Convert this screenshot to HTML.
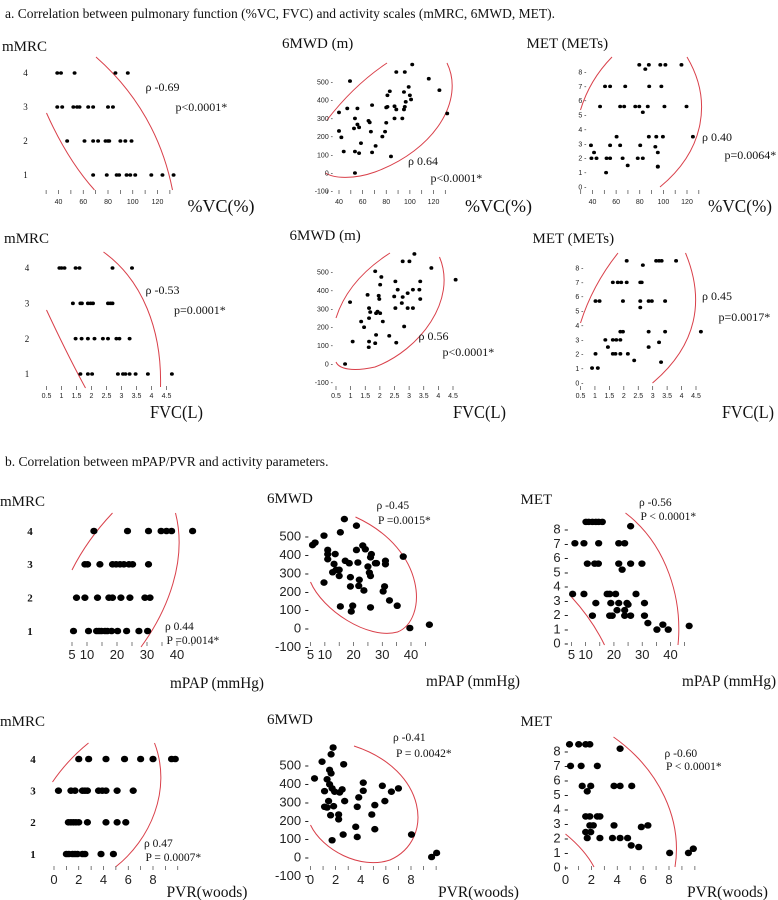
<!DOCTYPE html>
<html><head><meta charset="utf-8">
<style>
html,body{margin:0;padding:0;background:#fff;}
svg{display:block;}
.t{font-family:"Liberation Serif",serif;fill:#111;}
.s{font-family:"Liberation Sans",sans-serif;fill:#222;}
</style></head>
<body>
<svg id="fig" width="778" height="900" viewBox="0 0 778 900" xmlns="http://www.w3.org/2000/svg">
<text class="t" x="5" y="18" font-size="13.5">a. Correlation between pulmonary function (%VC, FVC) and activity scales (mMRC, 6MWD, MET).</text>
<text class="t" x="5" y="466" font-size="13.5">b. Correlation between mPAP/PVR and activity parameters.</text>
<g id="curves" transform="scale(1.5,1)" fill="none" stroke="#d9404a" stroke-width="1">
<path vector-effect="non-scaling-stroke" d="M31,113 Q45,160 63,190"/><path vector-effect="non-scaling-stroke" d="M64,57 Q104.5,110.5 115,190"/>
<path vector-effect="non-scaling-stroke" d="M258,63 Q236,85 218,120"/><path vector-effect="non-scaling-stroke" d="M298,63 C310,100 290,150 250,172 C235,180 222,178 217,173"/>
<path vector-effect="non-scaling-stroke" d="M408,57 Q393,80 387,110"/><path vector-effect="non-scaling-stroke" d="M458,57 C475,100 470,150 440,187"/>
<path vector-effect="non-scaling-stroke" d="M31,310 Q45,355 57,388"/><path vector-effect="non-scaling-stroke" d="M69,252 C95,280 108,330 107,387"/>
<path vector-effect="non-scaling-stroke" d="M260,253 Q232,280 224,318"/><path vector-effect="non-scaling-stroke" d="M293,257 C305,300 280,350 250,367 C235,372 226,369 224,362"/>
<path vector-effect="non-scaling-stroke" d="M412,253 Q395,285 387,323"/><path vector-effect="non-scaling-stroke" d="M457,253 C470,300 465,345 435,383"/>
<path vector-effect="non-scaling-stroke" d="M75,513 Q58,540 48,570"/><path vector-effect="non-scaling-stroke" d="M117,513 C125,560 112,610 94,647"/>
<path vector-effect="non-scaling-stroke" d="M237,517 C285,550 285,620 265,632 C245,640 215,610 207,582"/>
<path vector-effect="non-scaling-stroke" d="M381,597 Q395,620 403,645"/><path vector-effect="non-scaling-stroke" d="M417,513 C445,545 455,600 452,645"/>
<path vector-effect="non-scaling-stroke" d="M59,743 Q45,760 35,782"/><path vector-effect="non-scaling-stroke" d="M103,743 C115,790 100,840 77,867"/>
<path vector-effect="non-scaling-stroke" d="M236,746 C285,770 290,840 260,860 C240,870 215,850 207,825"/>
<path vector-effect="non-scaling-stroke" d="M377,834 Q390,850 396,867"/><path vector-effect="non-scaling-stroke" d="M409,737 C440,770 455,820 450,867"/>
</g>
</svg>
<script>
// ---- data ----
const a1_x=[39,42,53,86,96, 39,43,52,55,57,64,68,80,84, 47,61,68,72,78,80,81,90,94,99, 68,79,87,89,95,98,102,115,124,133];
const a1_y=[4,4,4,4,4, 3,3,3,3,3,3,3,3,3, 2,2,2,2,2,2,2,2,2,2, 1,1,1,1,1,1,1,1,1,1];
const a2_x=[102,88.5,95.7,49.3,116,125,99,83,95,81,55.6,68,47,100,101,40,80,96.5,95.7,87,95,81,88.5,131.6,53.5,65,66,55.6,87,80,93.6,40,42,57,52.7,67,79,76.7,58.6,71,44,53.5,57,68,84,53.5];
const a2_y=[596,555,555,505,518,455,473,449,445,427,355,373,355,427,404,333,360,391,364,367,349,364,349,327,300,287,278,267,300,276,300,231,196,251,245,227,227,200,164,149,118,118,109,113,91,0];
const a3_x=[79.6,87.7,97.4,101.7,115.3,84.7,50.6,54.9,67.7,88,98.3,46.4,63.4,66.8,76.2,79.6,86.8,100.9,119.6,82.6,60.4,87.7,94,99.6,125,38.7,54.9,63.4,80.4,93.2,41.3,39.1,43.4,51.9,54.9,65.5,78.3,82.6,95.3,69.8,95.3,95.3,51.5];
const a3_y=[8.5,8.5,8.5,8.5,8.5,8.2,7,7,7,7,7,5.6,5.6,5.6,5.6,5.6,5.6,5.6,5.6,5.2,3.5,3.5,3.5,3.5,3.5,2.9,2.9,2.9,2.9,2.8,2.4,2,2,2,2,2,2,2,2.4,1.5,1.43,1.4,1.0];
const b1_x=[0.93,1.0,1.1,1.47,1.6,2.7,3.35, 1.38,1.63,1.68,1.88,1.97,2.05,2.55,2.63,2.7, 1.47,1.67,1.88,2.1,2.38,2.55,2.83,2.93,3.27, 1.63,1.88,2.02,2.88,3.05,3.13,3.27,3.47,3.88,4.68];
const b1_y=[4,4,4,4,4,4,4, 3,3,3,3,3,3,3,3,3, 2,2,2,2,2,2,2,2,2, 1,1,1,1,1,1,1,1,1,1];
const b2_x=[3.18,2.78,3.01,3.76,1.84,4.59,2.05,2.53,2.01,3.38,2.61,3.13,2.95,3.35,0.98,2.49,1.96,3.38,1.58,1.98,2.78,2.75,1.63,2.53,2.01,1.67,1.87,1.92,2.95,3.13,1.63,1.36,2.1,1.46,2.83,1.07,1.87,1.63,2.32,1.84,2.56,1.62,0.81];
const b2_y=[598,558,558,522,504,458,473,449,431,449,404,404,385,404,336,367,371,353,376,353,364,331,304,304,276,282,276,285,304,304,249,231,231,200,204,122,158,122,153,113,116,91,0];
const b3_x=[2.1,2.66,3.12,3.22,3.31,3.81,1.62,1.79,1.91,2.1,2.57,2.62,1.02,1.16,1.97,2.57,2.86,2.97,3.43,2.57,1.88,1.97,2.86,3.43,4.67,1.36,1.62,1.74,1.88,1.45,2.86,3.22,1.62,1.71,1.88,2.14,1.02,2.36,3.29,0.9,1.1];
const b3_y=[8.5,8.2,8.5,8.5,8.5,8.5,7,7,7,7,7,7,5.7,5.7,5.7,5.7,5.7,5.7,5.7,5.25,3.57,3.57,3.57,3.57,3.57,3,3,3,3,2.5,2.5,2.83,2.03,2.03,2.03,2.03,2.03,1.57,1.45,1.04,1.04];
const c1_x=[12.3,23.5,30.5,34.7,36.5,38.2,45.2, 9.3,10.2,14.3,18.5,19.7,21,22.3,24,25.2,30.5, 6.5,9.3,13.5,17.3,18.5,21.3,24.3,29.3,31, 5.5,10.5,13.2,14,14.8,16,16.8,18.2,20.2,23.2,27.3,30.2];
const c1_y=[4,4,4,4,4,4,4, 3,3,3,3,3,3,3,3,3,3, 2,2,2,2,2,2,2,2,2, 1,1,1,1,1,1,1,1,1,1,1,1];
const c2_x=[16.8,15.4,21,5.7,6.6,9.7,11,11,11,13.6,13.2,13.9,12.7,15,15,9.7,21,23.2,18.5,17.1,18.9,21.5,22,18.9,21.8,23.6,25,25.5,25.9,27.6,26.2,31.1,31.1,30.3,30.8,32.5,35.2,25.9,24.1,37.3,39.6,46.4,15.4,19.7,19.2,25.9,28];
const c2_y=[592,520,556,451,464,502,424,401,374,402,348,316,303,283,316,247,424,448,352,365,276,356,262,226,229,204,334,301,283,352,401,365,347,199,226,150,121,384,428,388,0,18,117,121,90,112,352];
const c3_x=[10.1,11.1,12.4,13.6,14.6,15.9,25.9,6.2,9.4,14.6,21.7,23.8,10.6,13.2,14.5,21.7,25.9,29.9,22.9,5.4,9.4,17.6,18.5,20.6,27.8,13.6,18.9,21.7,24.6,25,30.8,21.1,23.8,12.4,18.5,19.4,23.8,25.9,30.8,32,35.2,37.3,39.2,46.6];
const c3_y=[8.5,8.5,8.5,8.5,8.5,8.5,8.2,7,7,7,7,7,5.57,5.57,5.57,5.57,5.57,5.57,5.15,3.44,3.44,3.44,3.44,3.44,3.44,2.8,2.8,2.8,2.8,2.7,2.8,2.3,2.3,1.92,1.92,1.92,1.92,1.92,1.92,1.4,0.94,1.29,0.94,1.2];
const d1_x=[2.0,2.8,4.2,5.7,7.0,8.0,9.5,9.8, 0.36,1.37,1.7,2.3,2.5,2.7,3.6,3.9,4.2,5.1,6.4, 1.16,1.37,1.57,1.77,2.0,2.7,4.2,5.1,5.8, 1.0,1.2,1.5,1.7,1.9,2.3,2.5,3.8,4.8];
const d1_y=[4,4,4,4,4,4,4,4, 3,3,3,3,3,3,3,3,3,3,3, 2,2,2,2,2,2,2,2,2, 1,1,1,1,1,1,1,1,1];
const d2_x=[1.8,1.64,0.92,1.52,2.64,0.32,1.64,1.32,1.52,1.72,2.52,2.32,1.92,4.2,4.2,2.72,3.84,3.72,1.44,1.12,1.84,2.24,1.6,2.24,1.32,5.72,7,5.92,6.44,3.6,3.72,2.6,1.72,4.88,5.12,8.04,9.64,10.04,5.12,1.12];
const d2_y=[595,558,518,473,504,427,455,422,395,373,367,351,355,404,360,304,324,273,304,273,276,231,227,205,269,387,373,304,355,164,109,122,91,231,151,122,0,22,282,358];
const d3_x=[0.31,1.02,1.56,1.88,4.22,0.39,1.21,2.46,1.29,1.95,1.68,3.75,4.22,5.12,1.56,1.88,2.46,2.66,2.15,1.88,3.75,5.86,6.37,1.56,1.95,1.68,2.66,3.63,4.22,4.8,5.08,5.66,8.05,9.5,9.88];
const d3_y=[8.46,8.46,8.46,8.46,8.16,6.97,6.97,6.97,5.59,5.59,5.22,5.59,5.59,5.59,3.49,3.49,3.49,3.49,2.87,2.87,2.87,2.76,2.87,2.41,2.41,2.0,2.0,2.0,2.0,2.0,1.49,1.38,0.97,0.97,1.26];
const vcTicks=[40,60,80,100,120];
const fvcTicks=[0.5,1,1.5,2,2.5,3,3.5,4,4.5];
const mpapTicks=[5,10,20,30,40];
const pvrTicks=[0,2,4,6,8];
const mmrcTicks=[1,2,3,4];
const mwdTicks=[-100,0,100,200,300,400,500];
const metTicks=[0,1,2,3,4,5,6,7,8];

const SX=1.5;
const NS='http://www.w3.org/2000/svg';
const svg=document.getElementById('fig');
function mk(tag,attrs,parent,txt){const e=document.createElementNS(NS,tag);for(const k in attrs)e.setAttribute(k,attrs[k]);if(txt!==undefined)e.textContent=txt;(parent||svg).appendChild(e);return e;}
function lin(a){return v=>a[1]+(v-a[0])*(a[3]-a[1])/(a[2]-a[0]);}

function panel(p){
  const g=mk('g',{});
  
  
  const X=lin([p.xa[0],p.xa[1]*SX,p.xa[2],p.xa[3]*SX]),Y=lin(p.ya);
  p.minor.forEach(v=>{const l=mk('line',{x1:X(v),x2:X(v),y1:p.tickY,y2:p.tickY+4,stroke:'#444','stroke-width':0.7},g);
    
    });
  p.xticks.forEach(v=>{const t=mk('text',{x:X(v),y:p.labY,'text-anchor':'middle','font-size':p.xfs,class:'s'},g,String(v));
    
    });
  p.yticks.forEach(v=>{const t=mk('text',{x:p.ylx*SX,y:Y(v)+p.yfs*0.35,'text-anchor':p.yanchor,'font-size':p.yfs,class:p.ycls,'font-weight':p.ybold?'bold':'normal'},g,String(v)+(p.dash?' -':''));
    
    });
  p.xs.forEach((v,i)=>{const c=mk('ellipse',{cx:X(v),cy:Y(p.ys[i]),rx:p.r*1.1,ry:p.r,fill:'#000'},g);
    
    });
  const yl=mk('text',{x:p.yt[0]*SX,y:p.yt[1],'font-size':p.ytfs,class:'t'},g,p.yt[2]);
  
  
  const xa={x:p.xt[0]*SX,y:p.xt[1],'font-size':p.xtfs,class:'t'};
  if(p.xtw){xa.textLength=p.xtw;xa.lengthAdjust='spacingAndGlyphs';}
  const xl=mk('text',xa,g,p.xt[2]);
  
  
  p.stats.forEach(s=>{const t=mk('text',{x:s[0]*SX,y:s[1],'font-size':p.sfs,class:'t'},g,s[2]);
    
    });
}
const r5=(a,b,s)=>{const o=[];for(let v=a;v<=b+1e-9;v+=s)o.push(+v.toFixed(2));return o;};
const topS={r:1.8,xfs:7,yfs:7,ytfs:15,xtfs:18,sfs:12,ycls:'s'};
const botS={r:3.3,xfs:13,yfs:13,ytfs:15,xtfs:15.5,sfs:11.5,ycls:'s'};
// Row 1
panel(Object.assign({},topS,{name:'panel-mmrc-vc',xa:[40,39,120,105],ya:[1,175,4,73],xs:a1_x,ys:a1_y,minor:r5(30,130,10),xticks:vcTicks,tickY:190,labY:204,yticks:mmrcTicks,ylx:17,yanchor:'middle',yfs:9,ycls:'t',dash:false,yt:[1.3,51,'mMRC'],xt:[125,212,'%VC(%)'],stats:[[97,91,'ρ -0.69'],[117,111,'p<0.0001*']]}));
panel(Object.assign({},topS,{name:'panel-6mwd-vc',xa:[40,226,120,289],ya:[0,173,500,82],xs:a2_x,ys:a2_y,minor:r5(30,130,10),xticks:vcTicks,tickY:190,labY:204,yticks:mwdTicks,ylx:222,yanchor:'end',dash:true,yt:[188,48,'6MWD (m)'],xt:[310,212,'%VC(%)'],stats:[[272,165,'ρ 0.64'],[287,182,'p<0.0001*']]}));
panel(Object.assign({},topS,{name:'panel-met-vc',xa:[40,395,120,458],ya:[0,187,8,72],xs:a3_x,ys:a3_y,minor:r5(30,130,10),xticks:vcTicks,tickY:190,labY:204,yticks:metTicks,ylx:391,yanchor:'end',dash:true,yt:[351,48,'MET (METs)'],xt:[472,212,'%VC(%)'],xtw:64,stats:[[468,141,'ρ 0.40'],[483,159,'p=0.0064*']]}));
// Row 2
panel(Object.assign({},topS,{name:'panel-mmrc-fvc',xa:[0.5,31,4.5,111],ya:[1,374,4,268],xs:b1_x,ys:b1_y,minor:fvcTicks,xticks:fvcTicks,tickY:386,labY:398,yticks:mmrcTicks,ylx:18,yanchor:'middle',yfs:9,ycls:'t',dash:false,yt:[2.7,243,'mMRC'],xt:[100,418,'FVC(L)'],xtw:53,stats:[[97,294,'ρ -0.53'],[116,314,'p=0.0001*']]}));
panel(Object.assign({},topS,{name:'panel-6mwd-fvc',xa:[0.5,224,4.5,302],ya:[0,364,500,272],xs:b2_x,ys:b2_y,minor:fvcTicks,xticks:fvcTicks,tickY:386,labY:398,yticks:mwdTicks,ylx:222,yanchor:'end',dash:true,yt:[193,240,'6MWD (m)'],xt:[302,418,'FVC(L)'],xtw:53,stats:[[279,340,'ρ 0.56'],[295,356,'p<0.0001*']]}));
panel(Object.assign({},topS,{name:'panel-met-fvc',xa:[0.5,387,4.5,464],ya:[0,383,8,268],xs:b3_x,ys:b3_y,minor:fvcTicks,xticks:fvcTicks,tickY:386,labY:398,yticks:metTicks,ylx:389,yanchor:'end',dash:true,yt:[355,243,'MET (METs)'],xt:[481.3,418,'FVC(L)'],xtw:52,stats:[[468,300,'ρ 0.45'],[479,321,'p=0.0017*']]}));
// Row 3
panel(Object.assign({},botS,{name:'panel-mmrc-mpap',xa:[5,48,40,118],ya:[1,631,4,531],xs:c1_x,ys:c1_y,minor:r5(5,45,5),xticks:mpapTicks,tickY:642,labY:659,yticks:mmrcTicks,ylx:20,yanchor:'middle',yfs:11,ycls:'t',ybold:true,dash:false,yt:[0,506,'mMRC'],xt:[113.3,688,'mPAP (mmHg)'],xtw:94,stats:[[110,630,'ρ 0.44'],[111,644,'P =0.0014*']]}));
panel(Object.assign({},botS,{name:'panel-6mwd-mpap',xa:[5,207,40,274],ya:[0,628,500,536],xs:c2_x,ys:c2_y,minor:r5(5,45,5),xticks:mpapTicks,tickY:642,labY:659,yticks:mwdTicks,ylx:206,yanchor:'end',dash:true,yt:[178,503,'6MWD'],xt:[284,686,'mPAP (mmHg)'],xtw:94,stats:[[251,509,'ρ -0.45'],[252,524,'P =0.0015*']]}));
panel(Object.assign({},botS,{name:'panel-met-mpap',xa:[5,381,40,447],ya:[0,643,8,529],xs:c3_x,ys:c3_y,minor:r5(5,45,5),xticks:mpapTicks,tickY:642,labY:659,yticks:metTicks,ylx:379,yanchor:'end',dash:true,yt:[347,504,'MET'],xt:[454.7,686,'mPAP (mmHg)'],xtw:94,stats:[[426,506,'ρ -0.56'],[427,520,'P < 0.0001*']]}));
// Row 4
panel(Object.assign({},botS,{name:'panel-mmrc-pvr',xa:[0,36,8,102],ya:[1,854,4,759],xs:d1_x,ys:d1_y,minor:r5(0,10,1),xticks:pvrTicks,tickY:866,labY:884,yticks:mmrcTicks,ylx:22,yanchor:'middle',yfs:11,ycls:'t',ybold:true,dash:false,yt:[0,726,'mMRC'],xt:[111,897,'PVR(woods)'],stats:[[96,847,'ρ 0.47'],[97,861,'P = 0.0007*']]}));
panel(Object.assign({},botS,{name:'panel-6mwd-pvr',xa:[0,207,8,274],ya:[0,857,500,765],xs:d2_x,ys:d2_y,minor:r5(0,10,1),xticks:pvrTicks,tickY:866,labY:884,yticks:mwdTicks,ylx:206,yanchor:'end',dash:true,yt:[178,724,'6MWD'],xt:[292,897,'PVR(woods)'],stats:[[262,741,'ρ -0.41'],[264,757,'P = 0.0042*']]}));
panel(Object.assign({},botS,{name:'panel-met-pvr',xa:[0,377,8,446],ya:[0,867,8,751],xs:d3_x,ys:d3_y,minor:r5(0,10,1),xticks:pvrTicks,tickY:866,labY:884,yticks:metTicks,ylx:379,yanchor:'end',dash:true,yt:[347,726,'MET'],xt:[458,897,'PVR(woods)'],stats:[[443,757,'ρ -0.60'],[444,770,'P < 0.0001*']]}));
</script>
</body></html>
